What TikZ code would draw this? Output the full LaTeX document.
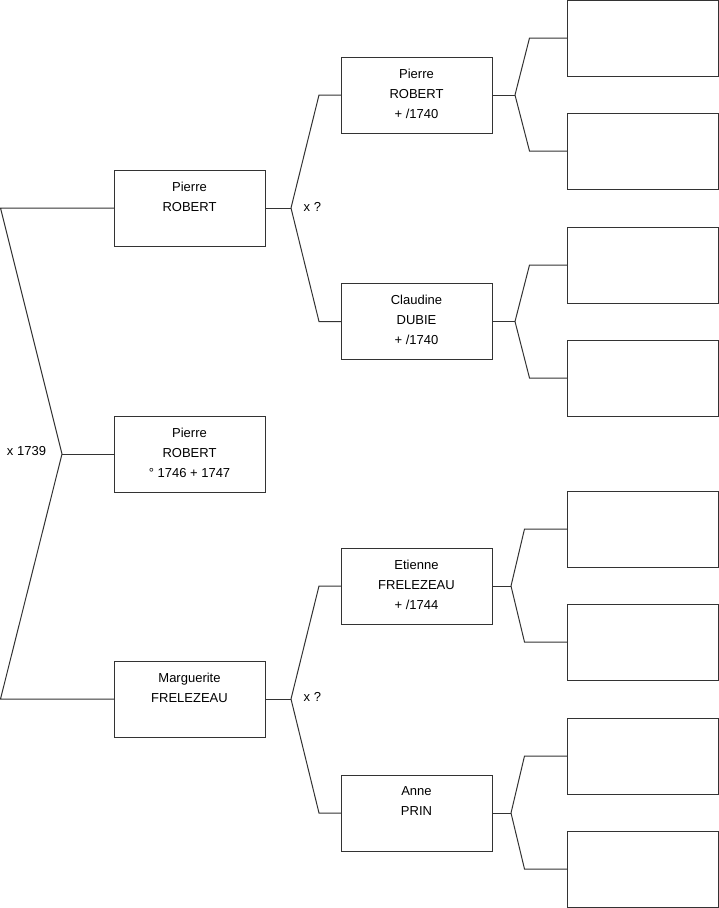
\documentclass[tikz,border=0pt]{standalone}
\usepackage{fontspec}
\setmainfont{Liberation Sans}
\usetikzlibrary{positioning,calc}
\definecolor{lgray}{HTML}{333333}

\begin{document}
\begin{tikzpicture}[
          x=1pt, y=-1pt,
          link/.style = {draw=lgray, line width=1pt},
          box/.style = {draw=lgray, line width=1pt, minimum width=151pt, minimum height=76pt,
                        inner sep=0pt, outer sep=0pt},
          txt/.style = {align=center, inner sep=0pt, anchor=north, yshift=-11.5pt,
                        font=\fontsize{13}{20}\selectfont},
          lbl/.style = {inner sep=0pt, font=\fontsize{13}{20}\selectfont},
        ]
        \useasboundingbox (0,0) rectangle (719,908);
        % child and parents
        \node[box, label={[txt]north:Pierre\\ROBERT}] (pere) at (189.5,208) {};
        \node[box, label={[txt]north:Pierre\\ROBERT\\° 1746 + 1747}] (enf) at (189.5,454) {};
        \node[box, label={[txt]north:Marguerite\\FRELEZEAU}] (mere) at (189.5,699) {};
        % grandparents
        \node[box, label={[txt]north:Pierre\\ROBERT\\+ /1740}] (gpp) at (416.5,95) {};
        \node[box, label={[txt]north:Claudine\\DUBIE\\+ /1740}] (gmp) at (416.5,321.5) {};
        \node[box, label={[txt]north:Etienne\\FRELEZEAU\\+ /1744}] (gpm) at (416.5,586) {};
        \node[box, label={[txt]north:Anne\\PRIN}] (gmm) at (416.5,813) {};
        % great-grandparents (empty)
        \node[box] (b1) at (643,38) {};
        \node[box] (b2) at (643,151) {};
        \node[box] (b3) at (643,265) {};
        \node[box] (b4) at (643,378) {};
        \node[box] (b5) at (643,529) {};
        \node[box] (b6) at (643,642) {};
        \node[box] (b7) at (643,756) {};
        \node[box] (b8) at (643,869) {};

        \node[lbl] (m0) at (26.5,451) {x 1739};
        \node[lbl, anchor=west] (m1) at (303.5,207) {x ?};
        \node[lbl, anchor=west] (m2) at (303.5,697) {x ?};

        % junctions
        \coordinate (j0) at (62,454);
        \coordinate (jf) at (291,208);
        \coordinate (jm) at (291,699);
        \coordinate (j1) at (515,95);
        \coordinate (j2) at (515,321.5);
        \coordinate (j3) at (511,586);
        \coordinate (j4) at (511,813);

        \draw[link] (pere.west) -- (pere.west -| 0.5,0) -- (j0) -- (mere.west -| 0.5,0) -- (mere.west);
        \draw[link] (j0) -- (enf.west);

        \draw[link] (pere.east) -- (jf);
        \draw[link] (jf) -- ([xshift=-22pt]gpp.west) -- (gpp.west);
        \draw[link] (jf) -- ([xshift=-22pt]gmp.west) -- (gmp.west);
        \draw[link] (mere.east) -- (jm);
        \draw[link] (jm) -- ([xshift=-22pt]gpm.west) -- (gpm.west);
        \draw[link] (jm) -- ([xshift=-22pt]gmm.west) -- (gmm.west);

        \draw[link] (gpp.east) -- (j1);
        \draw[link] (j1) -- ([xshift=-38pt]b1.west) -- (b1.west);
        \draw[link] (j1) -- ([xshift=-38pt]b2.west) -- (b2.west);
        \draw[link] (gmp.east) -- (j2);
        \draw[link] (j2) -- ([xshift=-38pt]b3.west) -- (b3.west);
        \draw[link] (j2) -- ([xshift=-38pt]b4.west) -- (b4.west);
        \draw[link] (gpm.east) -- (j3);
        \draw[link] (j3) -- ([xshift=-43pt]b5.west) -- (b5.west);
        \draw[link] (j3) -- ([xshift=-43pt]b6.west) -- (b6.west);
        \draw[link] (gmm.east) -- (j4);
        \draw[link] (j4) -- ([xshift=-43pt]b7.west) -- (b7.west);
        \draw[link] (j4) -- ([xshift=-43pt]b8.west) -- (b8.west);
      \end{tikzpicture}
\end{document}
